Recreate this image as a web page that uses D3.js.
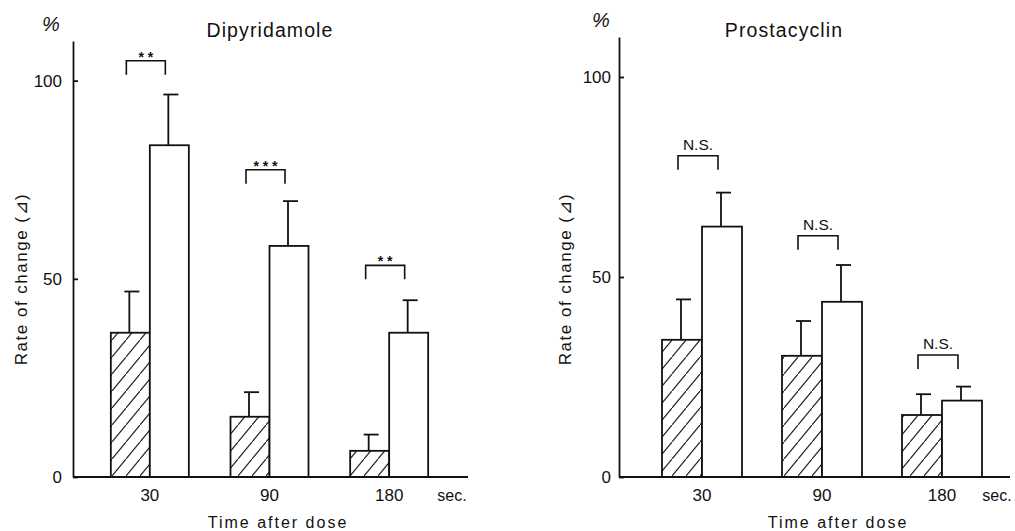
<!DOCTYPE html>
<html>
<head>
<meta charset="utf-8">
<script src="https://cdn.jsdelivr.net/npm/d3@7"></script>
<style>
  body { margin: 0; background: #fff; }
  text { font-family: "Liberation Sans", Arial, sans-serif; fill: #111; }
</style>
</head>
<body>
<div id="chart"></div>
<script>
// values (% change)
const times = ["30", "90", "180"];
const yTicks = [0, 50, 100];

const dipyHatched = [36.4, 15.2, 6.6];
const dipyHatchedErr = [10.4, 6.2, 4.1];
const dipyOpen = [83.7, 58.3, 36.4];
const dipyOpenErr = [12.8, 11.3, 8.2];
const dipySig = ["* *", "* * *", "* *"];
const dipyBracket = [105, 77.5, 53.4];

const prostHatched = [34.3, 30.3, 15.5];
const prostHatchedErr = [10.1, 8.7, 5.2];
const prostOpen = [62.6, 43.8, 19.1];
const prostOpenErr = [8.5, 9.2, 3.5];
const prostSig = ["N.S.", "N.S.", "N.S."];
const prostBracket = [80.3, 60.3, 30.5];

const width = 1015, height = 531;

const svg = d3.select("#chart")
  .append("svg")
  .attr("width", width)
  .attr("height", height);

const defs = svg.append("defs");
const hw = 14, hh = 17;
defs.append("pattern")
  .attr("id", "hatch")
  .attr("patternUnits", "userSpaceOnUse")
  .attr("width", hw)
  .attr("height", hh)
  .append("path")
  .attr("d", `M-1,${hh + 1.2} L${hw + 1},-1.2`)
  .attr("stroke", "#222")
  .attr("stroke-width", 1.2);

const panels = [
  {title: "Dipyridamole", titleX: 270, pctX: 51, pctY: 31,
   axisL: 73, axisR: 468, bandL: 90, bandR: 449, top: 41, bottom: 477, tickPad: 11,
   barW: 39, labelX: 21, xTitleX: 278, secX: 452,
   hatched: dipyHatched, hatchedErr: dipyHatchedErr,
   open: dipyOpen, openErr: dipyOpenErr, sig: dipySig, bracket: dipyBracket},
  {title: "Prostacyclin", titleX: 784, pctX: 601, pctY: 27,
   axisL: 619, axisR: 1010, bandL: 642, bandR: 1002, top: 37, bottom: 477, tickPad: 8,
   barW: 40, labelX: 565, xTitleX: 838, secX: 997,
   hatched: prostHatched, hatchedErr: prostHatchedErr,
   open: prostOpen, openErr: prostOpenErr, sig: prostSig, bracket: prostBracket}
];

panels.forEach(p => drawPanel(p));

function drawPanel(p) {
  const g = svg.append("g");

  const y = d3.scaleLinear().domain([0, 110]).range([p.bottom, p.top]);
  const x = d3.scaleBand().domain(times).range([p.bandL, p.bandR]).padding(0);

  const rows = times.map((t, i) => ({
    t: t, h: p.hatched[i], he: p.hatchedErr[i], o: p.open[i], oe: p.openErr[i],
    sig: p.sig[i], br: p.bracket[i]
  }));
  const cx = d => x(d.t) + x.bandwidth() / 2;

  // error bars (drawn first so bar outline sits on top)
  const err = (sel, xc, top, base) => {
    sel.append("line")
      .attr("x1", xc).attr("x2", xc)
      .attr("y1", base).attr("y2", top)
      .attr("stroke", "#111").attr("stroke-width", 1.8);
    sel.append("line")
      .attr("x1", xc - 5).attr("x2", xc + 10)
      .attr("y1", top).attr("y2", top)
      .attr("stroke", "#111").attr("stroke-width", 1.8);
  };

  rows.forEach(d => {
    const eg = g.append("g");
    err(eg, cx(d) - p.barW / 2 - 1, y(d.h + d.he), y(d.h));
    err(eg, cx(d) + p.barW / 2 - 1, y(d.o + d.oe), y(d.o));
  });

  // bars
  g.selectAll("rect.hatched")
    .data(rows)
    .enter().append("rect")
    .attr("class", "hatched")
    .attr("x", d => cx(d) - p.barW)
    .attr("width", p.barW)
    .attr("y", d => y(d.h))
    .attr("height", d => y(0) - y(d.h))
    .attr("fill", "url(#hatch)")
    .attr("stroke", "#111")
    .attr("stroke-width", 1.8);

  g.selectAll("rect.open")
    .data(rows)
    .enter().append("rect")
    .attr("class", "open")
    .attr("x", d => cx(d))
    .attr("width", p.barW)
    .attr("y", d => y(d.o))
    .attr("height", d => y(0) - y(d.o))
    .attr("fill", "#fff")
    .attr("stroke", "#111")
    .attr("stroke-width", 1.8);

  // significance brackets
  rows.forEach(d => {
    const x1 = cx(d) - p.barW / 2 - 4, x2 = cx(d) + p.barW / 2 - 4;
    const yt = y(d.br);
    const stars = d.sig.startsWith("*");
    g.append("path")
      .attr("d", `M${x1},${yt + 14} V${yt} H${x2} V${yt + 14}`)
      .attr("fill", "none")
      .attr("stroke", "#111")
      .attr("stroke-width", 1.6);
    g.append("text")
      .attr("x", (x1 + x2) / 2)
      .attr("y", stars ? yt + 1 : yt - 6)
      .attr("text-anchor", "middle")
      .attr("font-size", stars ? 14 : 15.5)
      .attr("font-weight", stars ? "bold" : "normal")
      .text(d.sig);
  });

  // y axis
  const yAxis = g.append("g")
    .attr("transform", `translate(${p.axisL},0)`)
    .call(d3.axisLeft(y).tickValues(yTicks).tickSize(-5).tickSizeOuter(0).tickPadding(p.tickPad));
  yAxis.select(".domain").attr("stroke", "#111").attr("stroke-width", 1.8);
  yAxis.selectAll(".tick line").attr("stroke", "#111").attr("stroke-width", 1.8);
  yAxis.selectAll(".tick text")
    .attr("font-size", 17)
    .attr("font-family", "Liberation Sans, Arial, sans-serif")
    .attr("fill", "#111");

  // x axis baseline
  g.append("line")
    .attr("x1", p.axisL).attr("x2", p.axisR)
    .attr("y1", y(0)).attr("y2", y(0))
    .attr("stroke", "#111").attr("stroke-width", 2);

  const xAxis = g.append("g")
    .attr("transform", `translate(0,${y(0)})`)
    .call(d3.axisBottom(x).tickSize(0).tickPadding(12));
  xAxis.select(".domain").remove();
  xAxis.selectAll(".tick text")
    .attr("font-size", 17)
    .attr("font-family", "Liberation Sans, Arial, sans-serif")
    .attr("fill", "#111");

  g.append("text")
    .attr("x", p.secX)
    .attr("y", y(0) + 24)
    .attr("text-anchor", "middle")
    .attr("font-size", 16)
    .text("sec.");

  g.append("text")
    .attr("x", p.xTitleX)
    .attr("y", 528)
    .attr("text-anchor", "middle")
    .attr("font-size", 16)
    .attr("letter-spacing", 2)
    .text("Time after dose");

  g.append("text")
    .attr("transform", `translate(${p.labelX + 6},279) rotate(-90)`)
    .attr("text-anchor", "middle")
    .attr("font-size", 17)
    .attr("letter-spacing", 1.5)
    .text("Rate of change (⊿)");

  g.append("text")
    .attr("x", p.pctX)
    .attr("y", p.pctY)
    .attr("text-anchor", "middle")
    .attr("font-size", 20)
    .attr("font-style", "italic")
    .text("%");

  g.append("text")
    .attr("x", p.titleX)
    .attr("y", 37)
    .attr("text-anchor", "middle")
    .attr("font-size", 19.5)
    .attr("letter-spacing", 1.1)
    .text(p.title);
}
</script>
</body>
</html>
